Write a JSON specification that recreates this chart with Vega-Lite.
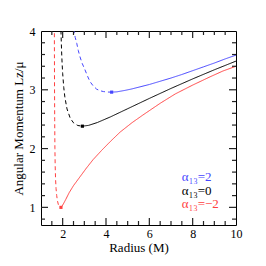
{
  "$schema": "https://vega.github.io/schema/vega-lite/v6.json",
  "width": 195,
  "height": 194,
  "autosize": {"type": "none"},
  "padding": {"left": 41, "top": 31, "right": 30, "bottom": 41},
  "background": "white",
  "config": {
    "view": {"stroke": "black", "strokeWidth": 1},
    "axis": {
      "labelFont": "Liberation Serif",
      "titleFont": "Liberation Serif",
      "labelFontSize": 12,
      "titleFontSize": 13,
      "titleFontWeight": "normal",
      "labelColor": "black",
      "titleColor": "black",
      "domain": false,
      "grid": false,
      "ticks": false,
      "labelFlush": false
    }
  },
  "datasets": {
    "curves": [
      {"series": "α₁₃=2", "part": "unstable", "r": 2.49, "L": 4.15},
      {"series": "α₁₃=2", "part": "unstable", "r": 2.52, "L": 4.0},
      {"series": "α₁₃=2", "part": "unstable", "r": 2.58, "L": 3.89},
      {"series": "α₁₃=2", "part": "unstable", "r": 2.65, "L": 3.79},
      {"series": "α₁₃=2", "part": "unstable", "r": 2.72, "L": 3.67},
      {"series": "α₁₃=2", "part": "unstable", "r": 2.8, "L": 3.56},
      {"series": "α₁₃=2", "part": "unstable", "r": 2.9, "L": 3.45},
      {"series": "α₁₃=2", "part": "unstable", "r": 3.03, "L": 3.34},
      {"series": "α₁₃=2", "part": "unstable", "r": 3.15, "L": 3.23},
      {"series": "α₁₃=2", "part": "unstable", "r": 3.26, "L": 3.14},
      {"series": "α₁₃=2", "part": "unstable", "r": 3.4, "L": 3.07},
      {"series": "α₁₃=2", "part": "unstable", "r": 3.57, "L": 3.01},
      {"series": "α₁₃=2", "part": "unstable", "r": 3.72, "L": 2.985},
      {"series": "α₁₃=2", "part": "unstable", "r": 3.88, "L": 2.97},
      {"series": "α₁₃=2", "part": "unstable", "r": 4.06, "L": 2.962},
      {"series": "α₁₃=2", "part": "unstable", "r": 4.26, "L": 2.96},
      {"series": "α₁₃=2", "part": "stable", "r": 4.26, "L": 2.96},
      {"series": "α₁₃=2", "part": "stable", "r": 4.5, "L": 2.965},
      {"series": "α₁₃=2", "part": "stable", "r": 4.88, "L": 2.99},
      {"series": "α₁₃=2", "part": "stable", "r": 5.2, "L": 3.015},
      {"series": "α₁₃=2", "part": "stable", "r": 5.57, "L": 3.05},
      {"series": "α₁₃=2", "part": "stable", "r": 6.0, "L": 3.09},
      {"series": "α₁₃=2", "part": "stable", "r": 6.5, "L": 3.145},
      {"series": "α₁₃=2", "part": "stable", "r": 7.0, "L": 3.2},
      {"series": "α₁₃=2", "part": "stable", "r": 7.5, "L": 3.26},
      {"series": "α₁₃=2", "part": "stable", "r": 8.0, "L": 3.325},
      {"series": "α₁₃=2", "part": "stable", "r": 8.5, "L": 3.39},
      {"series": "α₁₃=2", "part": "stable", "r": 9.0, "L": 3.455},
      {"series": "α₁₃=2", "part": "stable", "r": 9.5, "L": 3.525},
      {"series": "α₁₃=2", "part": "stable", "r": 10.0, "L": 3.59},
      {"series": "α₁₃=0", "part": "unstable", "r": 1.9, "L": 4.366},
      {"series": "α₁₃=0", "part": "unstable", "r": 1.925, "L": 3.949},
      {"series": "α₁₃=0", "part": "unstable", "r": 1.95, "L": 3.659},
      {"series": "α₁₃=0", "part": "unstable", "r": 1.975, "L": 3.445},
      {"series": "α₁₃=0", "part": "unstable", "r": 2.0, "L": 3.28},
      {"series": "α₁₃=0", "part": "unstable", "r": 2.05, "L": 3.041},
      {"series": "α₁₃=0", "part": "unstable", "r": 2.1, "L": 2.879},
      {"series": "α₁₃=0", "part": "unstable", "r": 2.2, "L": 2.675},
      {"series": "α₁₃=0", "part": "unstable", "r": 2.35, "L": 2.516},
      {"series": "α₁₃=0", "part": "unstable", "r": 2.5, "L": 2.438},
      {"series": "α₁₃=0", "part": "unstable", "r": 2.7, "L": 2.392},
      {"series": "α₁₃=0", "part": "unstable", "r": 2.91, "L": 2.381},
      {"series": "α₁₃=0", "part": "stable", "r": 2.91, "L": 2.381},
      {"series": "α₁₃=0", "part": "stable", "r": 3.2, "L": 2.395},
      {"series": "α₁₃=0", "part": "stable", "r": 3.6, "L": 2.443},
      {"series": "α₁₃=0", "part": "stable", "r": 4.2, "L": 2.538},
      {"series": "α₁₃=0", "part": "stable", "r": 5.0, "L": 2.678},
      {"series": "α₁₃=0", "part": "stable", "r": 6.0, "L": 2.853},
      {"series": "α₁₃=0", "part": "stable", "r": 7.0, "L": 3.023},
      {"series": "α₁₃=0", "part": "stable", "r": 8.0, "L": 3.185},
      {"series": "α₁₃=0", "part": "stable", "r": 9.0, "L": 3.34},
      {"series": "α₁₃=0", "part": "stable", "r": 10.0, "L": 3.488},
      {"series": "α₁₃=−2", "part": "unstable", "r": 1.615, "L": 4.2},
      {"series": "α₁₃=−2", "part": "unstable", "r": 1.62, "L": 3.6},
      {"series": "α₁₃=−2", "part": "unstable", "r": 1.625, "L": 3.0},
      {"series": "α₁₃=−2", "part": "unstable", "r": 1.632, "L": 2.5},
      {"series": "α₁₃=−2", "part": "unstable", "r": 1.642, "L": 2.0},
      {"series": "α₁₃=−2", "part": "unstable", "r": 1.655, "L": 1.7},
      {"series": "α₁₃=−2", "part": "unstable", "r": 1.672, "L": 1.48},
      {"series": "α₁₃=−2", "part": "unstable", "r": 1.695, "L": 1.32},
      {"series": "α₁₃=−2", "part": "unstable", "r": 1.725, "L": 1.2},
      {"series": "α₁₃=−2", "part": "unstable", "r": 1.76, "L": 1.11},
      {"series": "α₁₃=−2", "part": "unstable", "r": 1.8, "L": 1.05},
      {"series": "α₁₃=−2", "part": "unstable", "r": 1.85, "L": 1.015},
      {"series": "α₁₃=−2", "part": "unstable", "r": 1.92, "L": 1.0},
      {"series": "α₁₃=−2", "part": "stable", "r": 1.92, "L": 1.0},
      {"series": "α₁₃=−2", "part": "stable", "r": 1.97, "L": 1.02},
      {"series": "α₁₃=−2", "part": "stable", "r": 2.05, "L": 1.07},
      {"series": "α₁₃=−2", "part": "stable", "r": 2.15, "L": 1.14},
      {"series": "α₁₃=−2", "part": "stable", "r": 2.3, "L": 1.25},
      {"series": "α₁₃=−2", "part": "stable", "r": 2.5, "L": 1.37},
      {"series": "α₁₃=−2", "part": "stable", "r": 2.8, "L": 1.52},
      {"series": "α₁₃=−2", "part": "stable", "r": 3.1, "L": 1.67},
      {"series": "α₁₃=−2", "part": "stable", "r": 3.4, "L": 1.81},
      {"series": "α₁₃=−2", "part": "stable", "r": 3.8, "L": 1.97},
      {"series": "α₁₃=−2", "part": "stable", "r": 4.2, "L": 2.12},
      {"series": "α₁₃=−2", "part": "stable", "r": 4.65, "L": 2.28},
      {"series": "α₁₃=−2", "part": "stable", "r": 5.2, "L": 2.44},
      {"series": "α₁₃=−2", "part": "stable", "r": 5.7, "L": 2.57},
      {"series": "α₁₃=−2", "part": "stable", "r": 6.5, "L": 2.77},
      {"series": "α₁₃=−2", "part": "stable", "r": 7.2, "L": 2.93},
      {"series": "α₁₃=−2", "part": "stable", "r": 8.0, "L": 3.08},
      {"series": "α₁₃=−2", "part": "stable", "r": 8.8, "L": 3.22},
      {"series": "α₁₃=−2", "part": "stable", "r": 9.4, "L": 3.32},
      {"series": "α₁₃=−2", "part": "stable", "r": 10.0, "L": 3.4}
    ],
    "isco": [
      {"series": "α₁₃=2", "r": 4.26, "L": 2.96},
      {"series": "α₁₃=0", "r": 2.91, "L": 2.381},
      {"series": "α₁₃=−2", "r": 1.92, "L": 1.0}
    ],
    "labels": [
      {"series": "α₁₃=2", "r": 7.5, "L": 1.52},
      {"series": "α₁₃=0", "r": 7.5, "L": 1.28},
      {"series": "α₁₃=−2", "r": 7.5, "L": 1.05}
    ],
    "xticks": [
      {"v": 1.5, "kind": "minor"}, {"v": 2, "kind": "major"}, {"v": 2.5, "kind": "minor"},
      {"v": 3, "kind": "minor"}, {"v": 3.5, "kind": "minor"}, {"v": 4, "kind": "major"},
      {"v": 4.5, "kind": "minor"}, {"v": 5, "kind": "minor"}, {"v": 5.5, "kind": "minor"},
      {"v": 6, "kind": "major"}, {"v": 6.5, "kind": "minor"}, {"v": 7, "kind": "minor"},
      {"v": 7.5, "kind": "minor"}, {"v": 8, "kind": "major"}, {"v": 8.5, "kind": "minor"},
      {"v": 9, "kind": "minor"}, {"v": 9.5, "kind": "minor"}
    ],
    "yticks": [
      {"v": 0.8, "kind": "minor"}, {"v": 1, "kind": "major"}, {"v": 1.2, "kind": "minor"},
      {"v": 1.4, "kind": "minor"}, {"v": 1.6, "kind": "minor"}, {"v": 1.8, "kind": "minor"},
      {"v": 2, "kind": "major"}, {"v": 2.2, "kind": "minor"}, {"v": 2.4, "kind": "minor"},
      {"v": 2.6, "kind": "minor"}, {"v": 2.8, "kind": "minor"}, {"v": 3, "kind": "major"},
      {"v": 3.2, "kind": "minor"}, {"v": 3.4, "kind": "minor"}, {"v": 3.6, "kind": "minor"},
      {"v": 3.8, "kind": "minor"}
    ]
  },
  "layer": [
    {
      "data": {"name": "curves"},
      "mark": {"type": "line", "clip": true, "strokeWidth": 1},
      "encoding": {
        "x": {"field": "r", "type": "quantitative",
          "scale": {"domain": [1, 10], "nice": false, "zero": false},
          "axis": {"orient": "bottom", "values": [2, 4, 6, 8, 10], "format": "d", "labelPadding": 3, "title": "Radius (M)", "titlePadding": 2}},
        "y": {"field": "L", "type": "quantitative",
          "scale": {"domain": [0.7, 4], "nice": false, "zero": false},
          "axis": {"orient": "left", "values": [1, 2, 3, 4], "format": "d", "labelPadding": 6, "title": "Angular Momentum Lz/μ", "titlePadding": 4}},
        "color": {"field": "series", "type": "nominal",
          "scale": {"domain": ["α₁₃=2", "α₁₃=0", "α₁₃=−2"], "range": ["#4646ff", "#000000", "#ff4040"]},
          "legend": null},
        "strokeDash": {"field": "part", "type": "nominal",
          "scale": {"domain": ["unstable", "stable"], "range": [[4, 3], [1, 0]]},
          "legend": null}
      }
    },
    {
      "data": {"name": "isco"},
      "mark": {"type": "square", "filled": true, "size": 10, "opacity": 1},
      "encoding": {
        "x": {"field": "r", "type": "quantitative"},
        "y": {"field": "L", "type": "quantitative"},
        "color": {"field": "series", "type": "nominal", "legend": null}
      }
    },
    {
      "data": {"name": "labels"},
      "mark": {"type": "text", "align": "left", "baseline": "middle", "font": "Liberation Serif", "fontSize": 13},
      "encoding": {
        "x": {"field": "r", "type": "quantitative"},
        "y": {"field": "L", "type": "quantitative"},
        "text": {"field": "series"},
        "color": {"field": "series", "type": "nominal", "legend": null}
      }
    },
    {
      "data": {"name": "xticks"},
      "mark": {"type": "point", "shape": "M0,0L0,-1", "filled": false, "stroke": "#222222", "strokeWidth": 1.2, "opacity": 1},
      "encoding": {
        "x": {"field": "v", "type": "quantitative"},
        "y": {"datum": 0.7, "type": "quantitative"},
        "size": {"field": "kind", "type": "ordinal", "scale": {"domain": ["major", "minor"], "range": [196, 64]}, "legend": null}
      }
    },
    {
      "data": {"name": "xticks"},
      "mark": {"type": "point", "shape": "M0,0L0,1", "filled": false, "stroke": "#222222", "strokeWidth": 1.2, "opacity": 1},
      "encoding": {
        "x": {"field": "v", "type": "quantitative"},
        "y": {"datum": 4, "type": "quantitative"},
        "size": {"field": "kind", "type": "ordinal", "legend": null}
      }
    },
    {
      "data": {"name": "yticks"},
      "mark": {"type": "point", "shape": "M0,0L1,0", "filled": false, "stroke": "#222222", "strokeWidth": 1.2, "opacity": 1},
      "encoding": {
        "x": {"datum": 1, "type": "quantitative"},
        "y": {"field": "v", "type": "quantitative"},
        "size": {"field": "kind", "type": "ordinal", "legend": null}
      }
    },
    {
      "data": {"name": "yticks"},
      "mark": {"type": "point", "shape": "M0,0L-1,0", "filled": false, "stroke": "#222222", "strokeWidth": 1.2, "opacity": 1},
      "encoding": {
        "x": {"datum": 10, "type": "quantitative"},
        "y": {"field": "v", "type": "quantitative"},
        "size": {"field": "kind", "type": "ordinal", "legend": null}
      }
    }
  ]
}
